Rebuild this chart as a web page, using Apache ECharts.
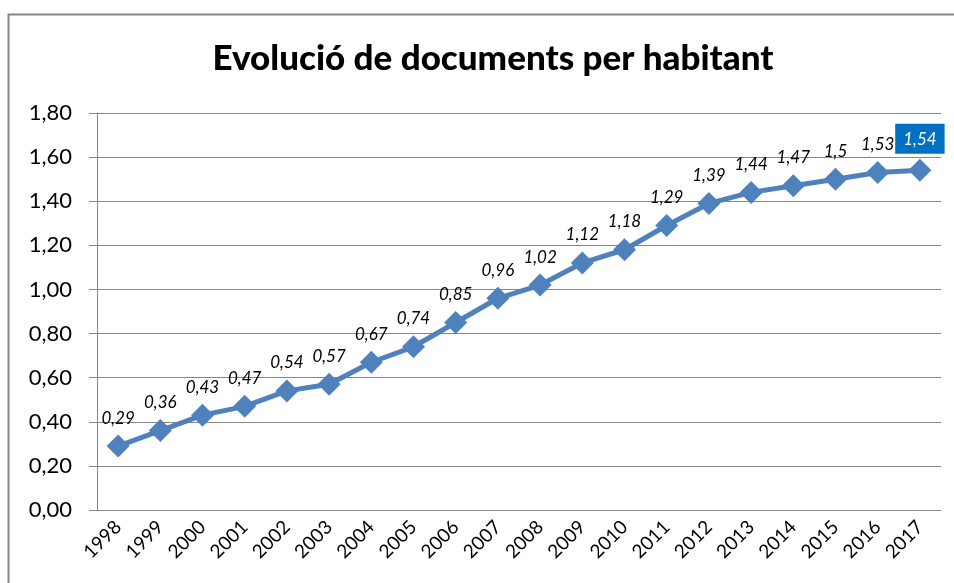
<!DOCTYPE html>
<html><head><meta charset="utf-8">
<script src="https://cdn.jsdelivr.net/npm/echarts@6/dist/echarts.min.js"></script>
<style>html,body{margin:0;padding:0;background:#fff}#c{width:954px;height:583px}</style>
</head><body><div id="c"></div>
<script>
const titleText = 'Evolució de documents per habitant';
const years = ['1998','1999','2000','2001','2002','2003','2004','2005','2006','2007','2008','2009','2010','2011','2012','2013','2014','2015','2016','2017'];
const docsPerHab = [0.29,0.36,0.43,0.47,0.54,0.57,0.67,0.74,0.85,0.96,1.02,1.12,1.18,1.29,1.39,1.44,1.47,1.5,1.53,1.54];
const highlightIndex = 19;

const FONT = 'Lato';
const chart = echarts.init(document.getElementById('c'), null, {renderer:'canvas'});
const seriesData = docsPerHab.map((v,i)=> i===highlightIndex ? {
  value:v,
  label:{backgroundColor:'#0070C0', color:'#fff', padding:[7,8,6,8], distance:5}
} : v);
chart.setOption({
  animation:false,
  backgroundColor:'#fff',
  graphic:[{type:'rect', shape:{x:8.5,y:14.5,width:980,height:620}, style:{fill:'none', stroke:'#868686', lineWidth:2}, silent:true}],
  title:{text:titleText, left:488, top:36, textAlign:'center',
    textStyle:{fontFamily:FONT, fontWeight:900, fontSize:35, color:'#000'}},
  grid:{left:97, right:13, top:113, bottom:73, containLabel:false},
  xAxis:{type:'category', data:years, boundaryGap:true,
    axisLine:{lineStyle:{color:'#868686', width:1}},
    axisTick:{show:false},
    axisLabel:{rotate:45, margin:14, fontFamily:FONT, fontSize:19, color:'#000', interval:0}},
  yAxis:{type:'value', min:0, max:1.8, interval:0.2,
    axisLine:{show:true, lineStyle:{color:'#868686', width:1}},
    axisTick:{show:true, length:8, lineStyle:{color:'#868686'}},
    splitLine:{lineStyle:{color:'#868686', width:1}},
    axisLabel:{margin:25, fontFamily:FONT, fontSize:22, color:'#000',
      formatter:v=>v.toFixed(2).replace('.',',')}},
  series:[{type:'line', data:seriesData, symbol:'diamond', symbolSize:23,
    lineStyle:{color:'#4F81BD', width:5}, itemStyle:{color:'#4F81BD'},
    label:{show:true, position:'top', distance:8, fontFamily:FONT, fontStyle:'italic', fontSize:17, color:'#000',
      formatter:p=>String(p.value).replace('.',',')}}]
});
</script></body></html>
